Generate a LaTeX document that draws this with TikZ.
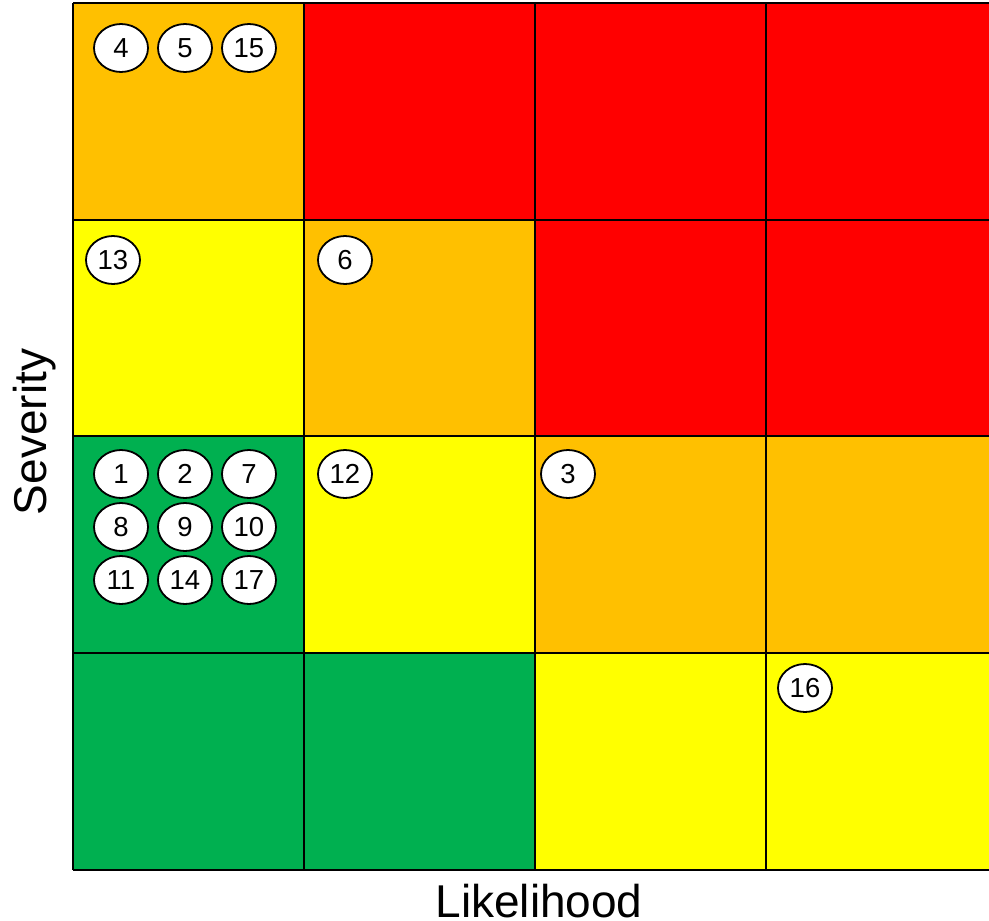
\documentclass[tikz,border=0pt]{standalone}
\usepackage{fontspec}
\setmainfont{Liberation Sans}
\usetikzlibrary{shapes.geometric}
\definecolor{rOrange}{HTML}{FFC000}
\definecolor{rRed}{HTML}{FF0000}
\definecolor{rYellow}{HTML}{FFFF00}
\definecolor{rGreen}{HTML}{00B050}
\tikzset{
  cellbox/.style={draw=black, line width=1.5pt},
  riskitem/.style={ellipse, draw=black, line width=1.8pt, fill=white, minimum width=54pt, minimum height=48pt, inner sep=0pt, font=\fontsize{27.5}{27.5}\selectfont},
  axislabel/.style={font=\fontsize{46}{46}\selectfont, inner sep=0pt}
}
\begin{document}
\begin{tikzpicture}[x=1pt,y=-1pt]
\useasboundingbox (0,0) rectangle (989,921);
\begin{scope}
\clip (0,0) rectangle (989,921);
% row 1
\fill[rOrange] (73,3) rectangle (304,220);
\fill[rRed] (304,3) rectangle (997,220);
% row 2
\fill[rYellow] (73,220) rectangle (304,436);
\fill[rOrange] (304,220) rectangle (535,436);
\fill[rRed] (535,220) rectangle (997,436);
% row 3
\fill[rGreen] (73,436) rectangle (304,653);
\fill[rYellow] (304,436) rectangle (535,653);
\fill[rOrange] (535,436) rectangle (997,653);
% row 4
\fill[rGreen] (73,653) rectangle (535,870);
\fill[rYellow] (535,653) rectangle (997,870);
% grid lines
\foreach \x in {73,304,535,766} \draw[cellbox] (\x,3) -- (\x,870);
\foreach \y in {3,220,436,653,870} \draw[cellbox] (73,\y) -- (997,\y);
% axis labels
\node[axislabel, rotate=90, anchor=base] (sev) at (46,432) {Severity};
\node[axislabel, anchor=base] (lik) at (539,917) {Likelihood};
\end{scope}
% items
\node[riskitem] (i4) at (121,48) {4};
\node[riskitem] (i5) at (185,48) {5};
\node[riskitem] (i15) at (249,48) {15};
\node[riskitem] (i13) at (113,260) {13};
\node[riskitem] (i6) at (345,260) {6};
\node[riskitem] (i1) at (121,474) {1};
\node[riskitem] (i2) at (185,474) {2};
\node[riskitem] (i7) at (249,474) {7};
\node[riskitem] (i8) at (121,527) {8};
\node[riskitem] (i9) at (185,527) {9};
\node[riskitem] (i10) at (249,527) {10};
\node[riskitem] (i11) at (121,580) {11};
\node[riskitem] (i14) at (185,580) {14};
\node[riskitem] (i17) at (249,580) {17};
\node[riskitem] (i12) at (345,474) {12};
\node[riskitem] (i3) at (568,474) {3};
\node[riskitem] (i16) at (805,688) {16};
\end{tikzpicture}
\end{document}
